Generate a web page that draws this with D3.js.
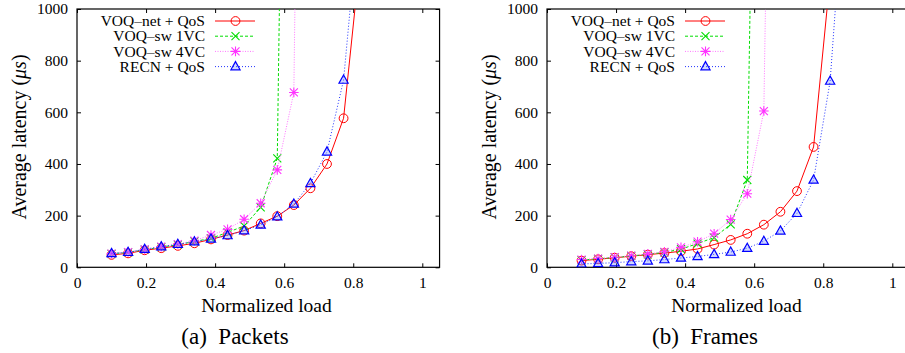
<!DOCTYPE html>
<html><head><meta charset="utf-8">
<script src="https://cdn.jsdelivr.net/npm/d3@7"></script>
<style>
html,body{margin:0;padding:0;background:#fff;}
svg{display:block;}
text{font-family:"Liberation Serif",serif;fill:#000;}
</style></head>
<body>
<svg id="chart" width="905" height="353"></svg>
<script>
// ---- data ----
const loads = [0.1, 0.148, 0.196, 0.244, 0.292, 0.340, 0.388, 0.436, 0.484, 0.532, 0.580, 0.628, 0.676, 0.724, 0.772, 0.820, 0.868];
const seriesNames = ["VOQ–net + QoS", "VOQ–sw 1VC", "VOQ–sw 4VC", "RECN + QoS"];
// (a) Packets
const voqNetPackets = [48, 54, 66, 74, 83, 93, 108, 125, 142, 170, 198, 241, 306, 400, 577, 1193];
const voqSw1Packets = [52, 58, 68, 78, 88, 100, 112, 135, 160, 232, 422, 5000];
const voqSw4Packets = [53, 59, 69, 80, 90, 103, 125, 147, 186, 248, 377, 677, 5800];
const recnPackets   = [54, 58, 70, 80, 89, 99, 110, 123, 142, 164, 196, 245, 325, 447, 725, 1420];
// (b) Frames
const voqNetFrames = [26, 31, 37, 43, 49, 55, 62, 71, 88, 106, 130, 165, 215, 295, 466, 1123];
const voqSw1Frames = [28, 33, 38, 44, 50, 58, 70, 92, 115, 166, 338, 4300];
const voqSw4Frames = [30, 34, 39, 45, 52, 60, 77, 99, 130, 185, 285, 605, 4750];
const recnFrames   = [13, 15, 18, 22, 25, 30, 36, 42, 50, 59, 74, 101, 141, 209, 338, 721, 1614];
const xTicks = [0, 0.2, 0.4, 0.6, 0.8, 1];
const yTicks = [0, 200, 400, 600, 800, 1000];
const panelTitles = ["(a)\u2002Packets", "(b)\u2002Frames"];
const xTitle = "Normalized load";

// ---- styles ----
const styles = [
  {color:"#ff0000", dash:null, sym:"circle"},
  {color:"#00dd00", dash:"3,2", sym:"x"},
  {color:"#ff33ff", lineColor:"#ff77ff", dash:"1,1.5", sym:"star"},
  {color:"#0000ff", lineColor:"#2233ff", dash:"1,2", sym:"tri"}
];

const svg = d3.select("#chart");
const panels = [
  {ox:0, title:panelTitles[0], data:[voqNetPackets, voqSw1Packets, voqSw4Packets, recnPackets]},
  {ox:470, title:panelTitles[1], data:[voqNetFrames, voqSw1Frames, voqSw4Frames, recnFrames]}
];

function drawSymbol(g, sym, color){
  if(sym==="circle"){
    g.append("circle").attr("r",4.4).attr("fill","none").attr("stroke",color).attr("stroke-width",1);
  } else if(sym==="x"){
    g.append("path").attr("d","M-4,-4L4,4M-4,4L4,-4").attr("stroke",color).attr("stroke-width",1.1).attr("fill","none");
  } else if(sym==="star"){
    g.append("path").attr("d","M-4,-4L4,4M-4,4L4,-4M0,-4.8V4.8M-4.8,0H4.8").attr("stroke",color).attr("stroke-width",1.1).attr("fill","none");
  } else {
    g.append("path").attr("d","M0,-5L4.6,3.2L-4.6,3.2Z").attr("stroke",color).attr("stroke-width",1.2).attr("fill","rgba(120,140,255,0.35)");
  }
}

panels.forEach((p,pi)=>{
  const x0 = 77 + p.ox;
  const x = d3.scaleLinear().domain([0,1.05]).range([x0, x0 + 345.3*1.05]);
  const y = d3.scaleLinear().domain([0,1000]).range([267.3, 9]);
  const [xa, xb] = x.range();
  const g = svg.append("g");

  const clipId = "clip"+pi;
  svg.append("defs").append("clipPath").attr("id",clipId)
    .append("rect").attr("x",xa).attr("y",9).attr("width",xb-xa).attr("height",258.3);

  // axes (ticks inside)
  const ax = g.append("g").attr("transform",`translate(0,${y(0)})`)
    .call(d3.axisBottom(x).tickValues(xTicks).tickFormat(d=>d===0||d===1?String(d):d.toFixed(1)).tickSizeInner(-4).tickSizeOuter(0).tickPadding(9.5));
  const at = g.append("g").attr("transform",`translate(0,${y(1000)})`)
    .call(d3.axisTop(x).tickValues(xTicks).tickFormat("").tickSizeInner(-4).tickSizeOuter(0));
  const al = g.append("g").attr("transform",`translate(${xa},0)`)
    .call(d3.axisLeft(y).tickValues(yTicks).tickFormat(d3.format("d")).tickSizeInner(-4).tickSizeOuter(0).tickPadding(9));
  const ar = g.append("g").attr("transform",`translate(${xb},0)`)
    .call(d3.axisRight(y).tickValues(yTicks).tickFormat("").tickSizeInner(-4).tickSizeOuter(0));
  [ax,at,al,ar].forEach(a=>{
    a.attr("font-family",null);
    a.select(".domain").remove();
    a.selectAll("line").attr("stroke","#000").attr("stroke-width",1);
    a.selectAll("text").style("font-family","Liberation Serif").style("font-size","15.5px").attr("fill","#000");
  });

  // border
  g.append("rect").attr("x",xa).attr("y",9).attr("width",xb-xa).attr("height",258.3)
    .attr("fill","none").attr("stroke","#000").attr("stroke-width",1.2);

  // series
  const plot = g.append("g").attr("clip-path",`url(#${clipId})`);
  p.data.forEach((vals,si)=>{
    const st = styles[si];
    const pts = vals.map((v,i)=>[loads[i], v]);
    const line = d3.line().x(d=>x(d[0])).y(d=>y(d[1]));
    plot.append("path").attr("d",line(pts)).attr("fill","none")
      .attr("stroke",st.lineColor||st.color).attr("stroke-width",1)
      .attr("stroke-dasharray",st.dash);
    pts.forEach(d=>{
      if(d[1] > 1050) return;
      const mg = plot.append("g").attr("transform",`translate(${x(d[0])},${y(d[1])})`);
      drawSymbol(mg, st.sym, st.color);
    });
  });

  // legend
  seriesNames.forEach((name,si)=>{
    const st = styles[si];
    const ly = 21 + si*15.2;
    g.append("text").attr("x",205+p.ox).attr("y",ly).attr("dy","0.34em")
      .attr("text-anchor","end").style("font-size","15.5px").text(name);
    g.append("line").attr("x1",215+p.ox).attr("x2",255+p.ox).attr("y1",ly).attr("y2",ly)
      .attr("stroke",st.lineColor||st.color).attr("stroke-width",1).attr("stroke-dasharray",st.dash);
    const mg = g.append("g").attr("transform",`translate(${235.5+p.ox},${ly})`);
    drawSymbol(mg, st.sym, st.color);
  });

  // axis titles
  g.append("text").attr("x",266.5+p.ox).attr("y",311.5).attr("text-anchor","middle")
    .style("font-size","19.5px").text(xTitle);
  const yt = g.append("text").attr("transform",`translate(${20+p.ox},137) rotate(-90)`)
    .attr("text-anchor","middle").attr("dy","0.32em").style("font-size","20px");
  yt.append("tspan").text("Average latency (");
  yt.append("tspan").style("font-style","italic").text("μs");
  yt.append("tspan").text(")");

  // panel title
  g.append("text").attr("x",235+p.ox).attr("y",344).attr("text-anchor","middle")
    .style("font-size","23px").text(p.title);
});
</script>
</body></html>
